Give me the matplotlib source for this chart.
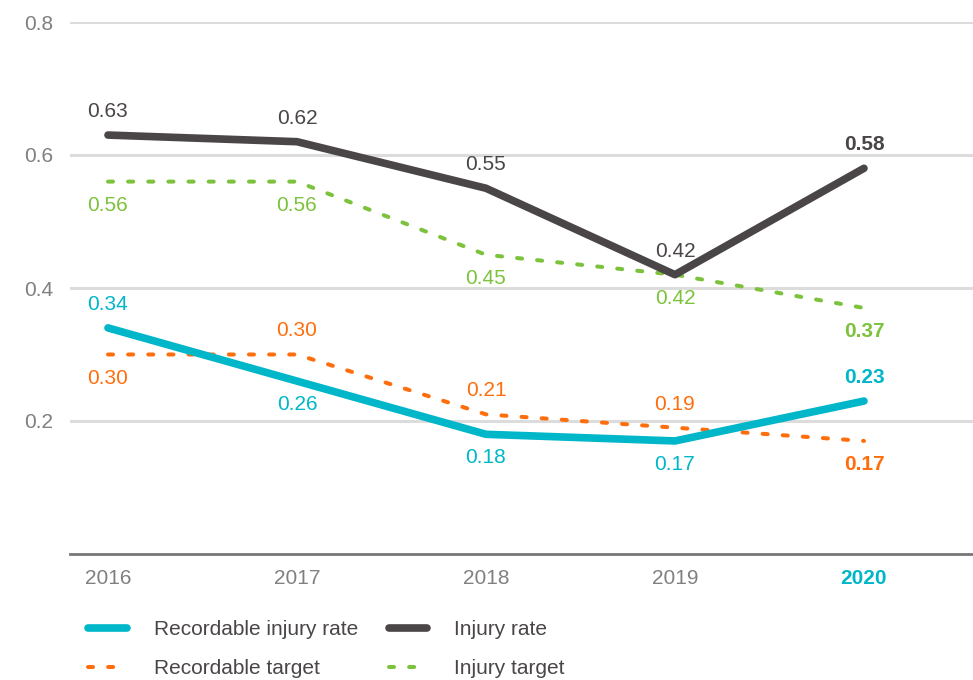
#!/usr/bin/env python3

import matplotlib
matplotlib.use('Agg')
import matplotlib.pyplot as plt
from matplotlib.lines import Line2D

years = ['2016', '2017', '2018', '2019', '2020']
injury_rate = [0.63, 0.62, 0.55, 0.42, 0.58]
injury_target = [0.56, 0.56, 0.45, 0.42, 0.37]
recordable_rate = [0.34, 0.26, 0.18, 0.17, 0.23]
recordable_target = [0.30, 0.30, 0.21, 0.19, 0.17]

# label above (+1) or below (-1) each point
injury_rate_pos = [1, 1, 1, 1, 1]
injury_target_pos = [-1, -1, -1, -1, -1]
recordable_rate_pos = [1, -1, -1, -1, 1]
recordable_target_pos = [-1, 1, 1, 1, -1]

CYAN = '#00B6C9'
DARK = '#4A4546'
ORANGE = '#FF6E0D'
GREEN = '#7DC23D'
GRAY = '#808080'
FS = 15
DASH = (1.25, 3.75)

plt.rcParams['font.family'] = ['Liberation Sans', 'DejaVu Sans']

fig = plt.figure(figsize=(9.73, 6.80), dpi=100)
ax = fig.add_axes([70 / 973, 126 / 680, 903 / 973, 532 / 680])
x = list(range(len(years)))

ax.set_xlim(-0.201, 4.577)
ax.set_ylim(0, 0.8)

for yv in [0.2, 0.4, 0.6, 0.8]:
    ax.axhline(yv, color='#DCDCDC', lw=2.2, zorder=0)

ax.plot(x, recordable_target, color=ORANGE, lw=2.9, dashes=DASH,
        dash_capstyle='round', zorder=2)
ax.plot(x, injury_target, color=GREEN, lw=2.9, dashes=DASH,
        dash_capstyle='round', zorder=2)
ax.plot(x, recordable_rate, color=CYAN, lw=5.5, solid_capstyle='round', zorder=3)
ax.plot(x, injury_rate, color=DARK, lw=5.5, solid_capstyle='round', zorder=3)


def label(vals, pos, color):
    for i, (v, p) in enumerate(zip(vals, pos)):
        bold = i == len(vals) - 1
        ax.annotate('{:.2f}'.format(v), (x[i], v), xytext=(0, 17 * p),
                    textcoords='offset points', ha='center', va='center',
                    fontsize=FS, color=color,
                    fontweight='bold' if bold else 'normal')


label(injury_rate, injury_rate_pos, DARK)
label(injury_target, injury_target_pos, GREEN)
label(recordable_rate, recordable_rate_pos, CYAN)
label(recordable_target, recordable_target_pos, ORANGE)

for s in ['top', 'right', 'left']:
    ax.spines[s].set_visible(False)
ax.spines['bottom'].set_color('#777777')
ax.spines['bottom'].set_linewidth(2)

ax.set_yticks([0.2, 0.4, 0.6, 0.8])
ax.set_yticklabels(['0.2', '0.4', '0.6', '0.8'])
ax.set_xticks(x)
ax.set_xticklabels(years)
ax.tick_params(axis='both', length=0, labelsize=FS, labelcolor=GRAY)
ax.tick_params(axis='x', pad=11)
for t in ax.get_yticklabels():
    t.set_horizontalalignment('left')
    t.set_x(-70 / 903 + 24 / 903)
    t.set_transform(ax.get_yaxis_transform())
last = ax.get_xticklabels()[-1]
last.set_color(CYAN)
last.set_fontweight('bold')

handles = [
    Line2D([], [], color=CYAN, lw=5.5, solid_capstyle='round'),
    Line2D([], [], color=ORANGE, lw=2.9, dashes=DASH, dash_capstyle='round'),
    Line2D([], [], color=DARK, lw=5.5, solid_capstyle='round'),
    Line2D([], [], color=GREEN, lw=2.9, dashes=DASH, dash_capstyle='round'),
]
labels = ['Recordable injury rate', 'Recordable target', 'Injury rate', 'Injury target']
leg = fig.legend(handles, labels, loc='upper left', bbox_to_anchor=(78 / 973, 1 - 610 / 680),
                 ncol=2, frameon=False, fontsize=FS, handlelength=1.85,
                 handletextpad=1.3, columnspacing=1.45, labelspacing=0.95,
                 borderpad=0)
for t in leg.get_texts():
    t.set_color(DARK)

fig.savefig('out.png', dpi=100)
